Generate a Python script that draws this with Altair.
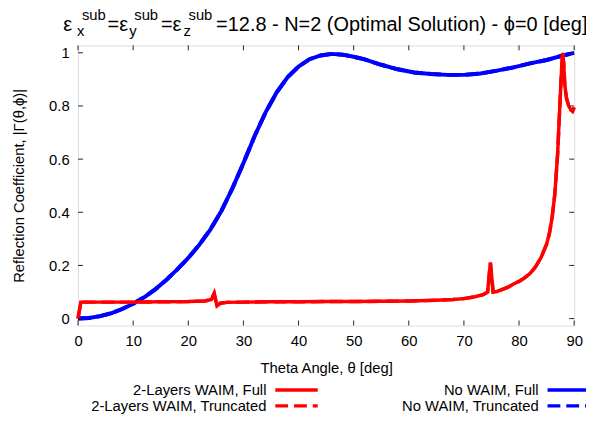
import altair as alt
import pandas as pd

# ---------------- data ----------------
theta_nowaim = [0, 2, 4, 6, 8, 10, 12, 14, 16, 18, 20, 22, 24, 26, 28, 30, 32, 34, 36, 38,
                40, 42, 44, 46, 48, 50, 52, 55, 58, 61, 64, 67, 70, 73, 76, 79, 82, 85, 88, 90]
refl_nowaim = [0.0, 0.002, 0.009, 0.02, 0.036, 0.056, 0.08, 0.11, 0.145, 0.185, 0.228, 0.278,
               0.335, 0.405, 0.49, 0.585, 0.685, 0.775, 0.85, 0.908, 0.948, 0.976, 0.99, 0.996,
               0.993, 0.985, 0.975, 0.955, 0.938, 0.926, 0.92, 0.917, 0.917, 0.922, 0.933,
               0.945, 0.96, 0.973, 0.99, 1.0]

theta_waim = [0, 0.5, 5, 10, 15, 20, 23, 24.2, 24.7, 25.2, 25.8, 27, 30, 35, 40, 45, 50, 55,
              60, 65, 68, 70, 72, 73.5, 74.3, 74.8, 75.3, 76, 77, 78, 79, 80, 81, 82, 83, 84,
              85, 85.5, 86, 86.5, 87, 87.4, 87.7, 87.9, 88.1, 88.3, 88.6, 89, 89.4, 89.7, 90]
refl_waim = [0.0, 0.062, 0.062, 0.062, 0.063, 0.064, 0.066, 0.072, 0.095, 0.048, 0.058, 0.061,
             0.062, 0.063, 0.063, 0.064, 0.064, 0.065, 0.066, 0.069, 0.072, 0.075, 0.082, 0.09,
             0.10, 0.21, 0.10, 0.102, 0.11, 0.118, 0.13, 0.14, 0.153, 0.17, 0.195, 0.23, 0.28,
             0.32, 0.38, 0.47, 0.62, 0.80, 0.93, 1.0, 0.96, 0.88, 0.83, 0.80, 0.785, 0.78, 0.795]

series_names = ["2-Layers WAIM, Full", "2-Layers WAIM, Truncated",
                "No WAIM, Full", "No WAIM, Truncated"]
series_colors = ["#ff0000", "#ff0000", "#0000ff", "#0000ff"]

x_ticks = [0, 10, 20, 30, 40, 50, 60, 70, 80, 90]
y_ticks = [0, 0.2, 0.4, 0.6, 0.8, 1.0]

x_title = "Theta Angle, \u03b8 [deg]"
y_title = "Reflection Coefficient, |\u0393(\u03b8,\u03d5)|"

# title pieces: (text, role)  role: main / sub / sup
title_parts = [("\u03b5", "main"), ("x", "sub"), ("sub", "sup"),
               ("=\u03b5", "main"), ("y", "sub"), ("sub", "sup"),
               ("=\u03b5", "main"), ("z", "sub"), ("sub", "sup"),
               ("=12.8 - N=2 (Optimal Solution) - \u03d5=0 [deg]", "main")]

# ---------------- layout ----------------
FONT = "Liberation Sans"
W, H = 503, 284
X0, Y0 = 79, 43  # plot origin on the page
DASH = [13, 6]

xscale = alt.Scale(domain=[0, 90], nice=False, zero=False)
yscale = alt.Scale(domain=[-0.026, 1.028], nice=False, zero=False)

df_waim = pd.DataFrame({"theta": theta_waim, "value": refl_waim})
df_nowaim = pd.DataFrame({"theta": theta_nowaim, "value": refl_nowaim})

xaxis = alt.Axis(values=x_ticks, ticks=False, domain=False, grid=False, labelPadding=8,
                 labelFontSize=15, labelFont=FONT, labelColor="black", title=x_title,
                 titleFont=FONT, titleFontSize=15, titleFontWeight="normal",
                 titleColor="black", titlePadding=13, labelFlush=False)
yaxis = alt.Axis(values=y_ticks, ticks=False, domain=False, grid=False, labelPadding=9,
                 labelFontSize=15, labelFont=FONT, labelColor="black", title=y_title,
                 titleFont=FONT, titleFontSize=15, titleFontWeight="normal",
                 titleColor="black", titlePadding=22, labelFlush=False,
                 format="~g")

X = lambda f: alt.X(f, scale=xscale, axis=xaxis, title=x_title)
Y = lambda f: alt.Y(f, scale=yscale, axis=yaxis, title=y_title)


def line_layer(df, color, width, dash=None):
    kw = dict(color=color, strokeWidth=width, clip=False)
    if dash:
        kw["strokeDash"] = dash
    return alt.Chart(df).mark_line(**kw).encode(x=X("theta:Q"), y=Y("value:Q"))


layers = [
    line_layer(df_nowaim, series_colors[2], 4),
    line_layer(df_nowaim, series_colors[3], 4, dash=DASH),
    line_layer(df_waim, series_colors[0], 3.5),
    line_layer(df_waim, series_colors[1], 3.5, dash=DASH),
]

# inward ticks (gnuplot style, mirrored)
df_xt = pd.DataFrame({"theta": x_ticks})
df_yt = pd.DataFrame({"value": y_ticks})
TK = 5
tick_style = dict(color="#222222", strokeWidth=1)
layers.append(alt.Chart(df_xt).mark_rule(**tick_style).encode(
    x=X("theta:Q"), y=alt.value(H), y2=alt.value(H - TK)))
layers.append(alt.Chart(df_xt).mark_rule(**tick_style).encode(
    x=X("theta:Q"), y=alt.value(0), y2=alt.value(TK)))
layers.append(alt.Chart(df_yt).mark_rule(**tick_style).encode(
    y=Y("value:Q"), x=alt.value(0), x2=alt.value(TK)))
layers.append(alt.Chart(df_yt).mark_rule(**tick_style).encode(
    y=Y("value:Q"), x=alt.value(W), x2=alt.value(W - TK)))

one = pd.DataFrame({"a": [0]})

# title built from pieces (sub/superscripts)
title_x = [64, 78, 83, 109, 131, 136, 163, 186, 191, 219]
role_style = {"main": (20.2, 28), "sub": (15, 34), "sup": (15, 17)}
for (txt, role), px in zip(title_parts, title_x):
    fs, base = role_style[role]
    layers.append(alt.Chart(one).mark_text(
        text=txt, font=FONT, fontSize=fs, align="left", baseline="alphabetic",
        color="black").encode(x=alt.value(px - X0), y=alt.value(base - Y0)))

# legend (labels left of samples, as in gnuplot)
leg_text_x = [270, 270, 546, 546]
leg_line_x = [(279, 322), (279, 322), (555, 598), (555, 598)]
leg_y = [392.5, 408.5, 392.5, 408.5]
for i, name in enumerate(series_names):
    layers.append(alt.Chart(one).mark_text(
        text=name, font=FONT, fontSize=15, align="right", baseline="middle",
        color="black").encode(x=alt.value(leg_text_x[i] - X0), y=alt.value(leg_y[i] - Y0)))
    kw = dict(color=series_colors[i], strokeWidth=3.5)
    if "Truncated" in name:
        kw["strokeDash"] = DASH
    layers.append(alt.Chart(one).mark_rule(**kw).encode(
        x=alt.value(leg_line_x[i][0] - X0), x2=alt.value(leg_line_x[i][1] - X0),
        y=alt.value(leg_y[i] - Y0)))

chart = alt.layer(*layers).properties(
    width=W, height=H,
    autosize=alt.AutoSizeParams(type="none"),
    padding={"left": X0 - 8, "top": Y0 - 8, "right": 586 - (X0 - 8) - W,
             "bottom": 417 - (Y0 - 8) - H},
).configure_view(stroke="black", strokeWidth=1.2).configure(background="white")

chart.save("out.html", embed_options={"renderer": "svg", "actions": False})
